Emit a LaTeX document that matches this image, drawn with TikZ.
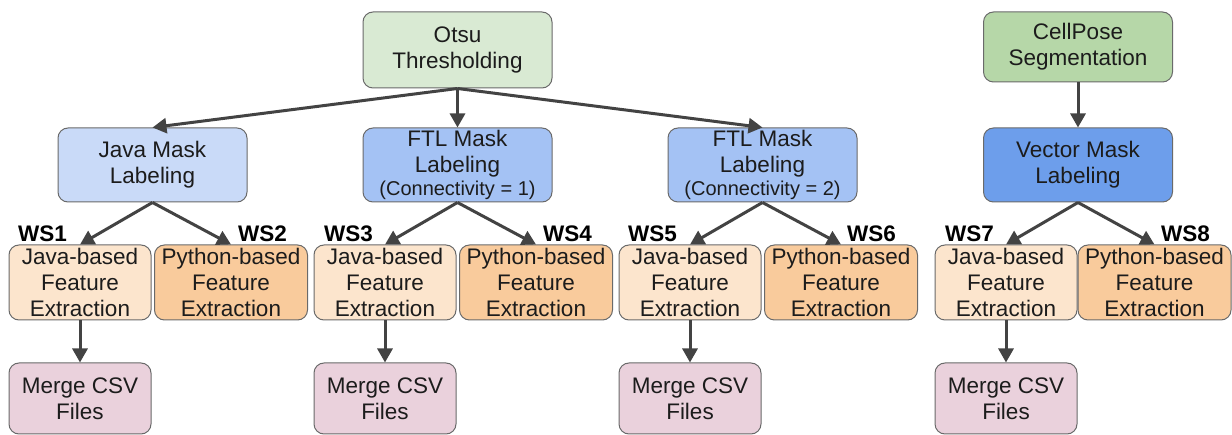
\documentclass[tikz,border=0pt]{standalone}
\usepackage{fontspec}
\setmainfont{Liberation Sans}
\usetikzlibrary{arrows.meta}

\definecolor{boxline}{HTML}{6A6A6A}
\definecolor{textcol}{HTML}{1C1C1C}
\definecolor{arrowcol}{HTML}{434343}
\definecolor{otsufill}{HTML}{D9EAD3}
\definecolor{cellfill}{HTML}{B6D7A8}
\definecolor{javamaskfill}{HTML}{C9DAF8}
\definecolor{ftlfill}{HTML}{A4C2F4}
\definecolor{vectorfill}{HTML}{6D9EEB}
\definecolor{javafill}{HTML}{FCE5CD}
\definecolor{pyfill}{HTML}{F9CB9C}
\definecolor{mergefill}{HTML}{EAD1DC}

\begin{document}
\begin{tikzpicture}[x=1pt,y=-1pt,
  box/.style={draw=boxline, line width=1pt, rounded corners=10pt, align=center,
    inner sep=0pt, text=textcol, font=\fontsize{22.5}{26}\selectfont},
  seg/.style={box, minimum width=189pt, minimum height=74pt},
  mask/.style={box, minimum width=189pt, minimum height=74pt},
  javafe/.style={box, fill=javafill, minimum width=142pt, minimum height=75pt},
  pyfe/.style={box, fill=pyfill, minimum width=153pt, minimum height=75pt},
  mergebox/.style={box, fill=mergefill, minimum width=142pt, minimum height=71pt},
  flow/.style={draw=arrowcol, line width=3pt, -{Triangle[length=14pt,width=15pt]}},
  ws/.style={font=\bfseries\fontsize{22.5}{26}\selectfont, text=black, inner sep=0pt}
]
\useasboundingbox (0,0) rectangle (1232,435);

% segmentation stages
\node[seg, fill=otsufill, minimum height=76pt] (otsu) at (457.5,50) {Otsu\\Thresholding};
\node[seg, fill=cellfill, minimum height=70pt] (cell) at (1078,47) {CellPose\\Segmentation};

% mask labeling
\node[mask, fill=javamaskfill] (jm) at (152.5,165) {Java Mask\\Labeling};
\node[mask, fill=ftlfill] (ftla) at (457.5,165)
  {FTL Mask\\Labeling\\[-3pt]{\fontsize{20}{22}\selectfont(Connectivity = 1)}};
\node[mask, fill=ftlfill] (ftlb) at (762.5,165)
  {FTL Mask\\Labeling\\[-3pt]{\fontsize{20}{22}\selectfont(Connectivity = 2)}};
\node[mask, fill=vectorfill] (vm) at (1078,165) {Vector Mask\\Labeling};

% feature extraction
\node[javafe] (ja) at (80,282.5) {Java-based\\Feature\\Extraction};
\node[pyfe]   (pa) at (231,282.5) {Python-based\\Feature\\Extraction};
\node[javafe] (jb) at (385,282.5) {Java-based\\Feature\\Extraction};
\node[pyfe]   (pb) at (536,282.5) {Python-based\\Feature\\Extraction};
\node[javafe] (jc) at (690,282.5) {Java-based\\Feature\\Extraction};
\node[pyfe]   (pc) at (841,282.5) {Python-based\\Feature\\Extraction};
\node[javafe] (jd) at (1006,282.5) {Java-based\\Feature\\Extraction};
\node[pyfe]   (pd) at (1154.5,282.5) {Python-based\\Feature\\Extraction};

% merging
\node[mergebox] (ma) at (80,398.5) {Merge CSV\\Files};
\node[mergebox] (mb) at (385,398.5) {Merge CSV\\Files};
\node[mergebox] (mc) at (690,398.5) {Merge CSV\\Files};
\node[mergebox] (md) at (1006,398.5) {Merge CSV\\Files};

% workflow labels
\node[ws, anchor=base west] (ws1) at (18,242) {WS1};
\node[ws, anchor=base east] (ws2) at (287,242) {WS2};
\node[ws, anchor=base west] (ws3) at (324,242) {WS3};
\node[ws, anchor=base east] (ws4) at (592,242) {WS4};
\node[ws, anchor=base west] (ws5) at (628,242) {WS5};
\node[ws, anchor=base east] (ws6) at (896,242) {WS6};
\node[ws, anchor=base west] (ws7) at (945,242) {WS7};
\node[ws, anchor=base east] (ws8) at (1210,242) {WS8};

% connectors
\draw[flow] (otsu.south) -- (jm.north);
\draw[flow] (otsu.south) -- (ftla.north);
\draw[flow] (otsu.south) -- (ftlb.north);
\draw[flow] (cell.south) -- (vm.north);

\draw[flow] (jm.south) -- (ja.north);
\draw[flow] (jm.south) -- (pa.north);
\draw[flow] (ftla.south) -- (jb.north);
\draw[flow] (ftla.south) -- (pb.north);
\draw[flow] (ftlb.south) -- (jc.north);
\draw[flow] (ftlb.south) -- (pc.north);
\draw[flow] (vm.south) -- (jd.north);
\draw[flow] (vm.south) -- (pd.north);

\draw[flow] (ja.south) -- (ma.north);
\draw[flow] (jb.south) -- (mb.north);
\draw[flow] (jc.south) -- (mc.north);
\draw[flow] (jd.south) -- (md.north);
\end{tikzpicture}
\end{document}
